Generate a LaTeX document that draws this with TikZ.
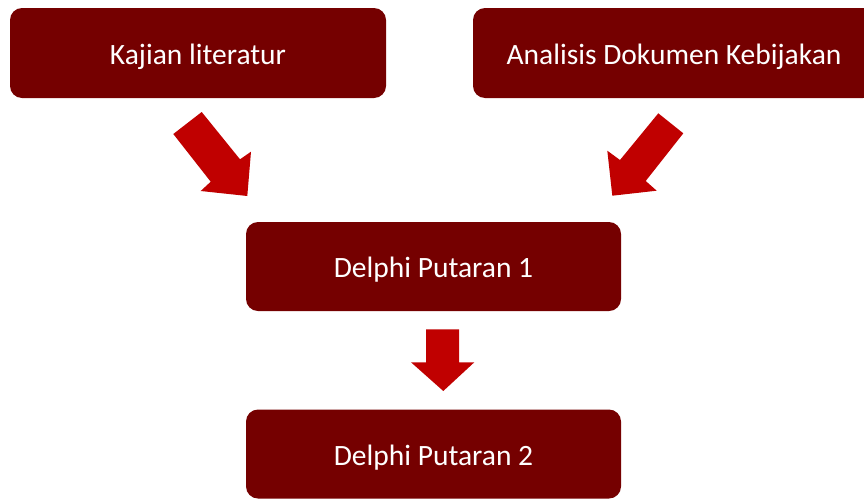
\documentclass[tikz,border=0pt]{standalone}
\usepackage{fontspec}
\setmainfont{Carlito}
\definecolor{boxred}{HTML}{750000}
\definecolor{arrowred}{HTML}{C00000}
\begin{document}
\begin{tikzpicture}[x=1pt,y=-1pt,
  box/.style={fill=boxred, rounded corners=12pt, text=white, inner sep=0pt,
    text height=22pt, text depth=0pt,
    font=\fontsize{29.5}{35}\selectfont},
  blockarrow/.style={fill=arrowred}]
\useasboundingbox (0,0) rectangle (864,498);
\clip (0,0) rectangle (864,498);
\node[box, minimum width=376pt, minimum height=90pt] (kajian) at (198,53) {Kajian literatur};
\node[box, minimum width=402pt, minimum height=90pt] (analisis) at (674,53) {Analisis Dokumen Kebijakan};
\node[box, minimum width=375pt, minimum height=89pt] (d1) at (433.5,266.5) {Delphi Putaran 1};
\node[box, minimum width=375pt, minimum height=89pt] (d2) at (433.5,454) {Delphi Putaran 2};
% block arrows
\fill[blockarrow] (201.7,112) -- (240,159.3) -- (251,151.7) -- (247.3,196) -- (200.7,191) -- (210.7,181.7) -- (173.3,134) -- cycle;
\fill[blockarrow] (658.3,113.3) -- (683.3,133.3) -- (645.7,181) -- (656.7,190.7) -- (612.3,195.7) -- (607.3,150.7) -- (620,160) -- cycle;
\fill[blockarrow] (426,329.3) -- (459,329.3) -- (459,362.3) -- (474.3,362.3) -- (443.3,391) -- (411,362.3) -- (426,362.3) -- cycle;
\end{tikzpicture}
\end{document}
